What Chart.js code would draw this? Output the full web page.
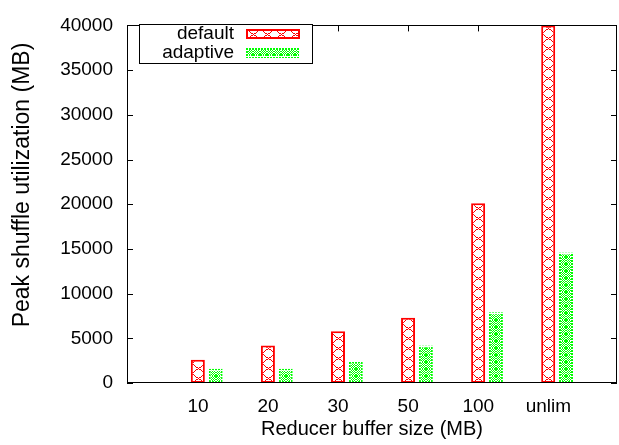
<!DOCTYPE html>
<html><head><meta charset="utf-8">
<script src="https://cdn.jsdelivr.net/npm/chart.js@4/dist/chart.umd.min.js"></script>
<style>html,body{margin:0;padding:0;background:#fff;}#wrap{width:619px;height:445px;}</style>
</head><body><div id="wrap"><canvas id="c" width="619" height="445"></canvas></div>
<script>
const categories = ['10', '20', '30', '50', '100', 'unlim'];
const seriesNames = ['default', 'adaptive'];
const defaultValues = [2600, 4200, 5800, 7300, 20100, 40000];
const adaptiveValues = [1600, 1600, 2400, 4200, 7900, 14600];
const yTickValues = [0, 5000, 10000, 15000, 20000, 25000, 30000, 35000, 40000];

const FONT = 'Liberation Sans, Arial, Helvetica, sans-serif';
const RED = '#ff0000';
const GREEN = '#00ff00';
const canvas = document.getElementById('c');
const ctx = canvas.getContext('2d');

function tileCanvas(w, h, draw) {
  const c = document.createElement('canvas'); c.width = w; c.height = h;
  const g = c.getContext('2d');
  const img = g.createImageData(w, h);
  draw((x, y, col) => {
    x = ((x % w) + w) % w; y = ((y % h) + h) % h;
    const i = (y * w + x) * 4;
    img.data[i] = col[0]; img.data[i + 1] = col[1]; img.data[i + 2] = col[2]; img.data[i + 3] = 255;
  });
  for (let i = 0; i < img.data.length; i += 4) {
    if (img.data[i + 3] === 0) { img.data[i] = 255; img.data[i + 1] = 255; img.data[i + 2] = 255; img.data[i + 3] = 255; }
  }
  g.putImageData(img, 0, 0);
  return c;
}
function redTile() {
  return tileCanvas(14, 10, (set) => {
    for (let x = 0; x < 14; x++) {
      const y = Math.round(x * 10 / 14);
      set(x, y, [255, 0, 0]);
      set(x, 10 - y, [255, 0, 0]);
    }
  });
}
function greenTile() {
  const rows = [
    '##.#.##',
    '#.#.#.#',
    '.#.#.#.',
    '#.#.#.#',
    '.#.#.#.',
    '#.#.#.#',
    '##.#.##'
  ];
  return tileCanvas(7, 7, (set) => {
    rows.forEach((r, y) => { for (let x = 0; x < r.length; x++) if (r[x] === '#') set(x, y, [0, 255, 0]); });
  });
}
function greenBorderTile() {
  return tileCanvas(3, 3, (set) => {
    for (let y = 0; y < 2; y++) for (let x = 0; x < 2; x++) set(x, y, [0, 255, 0]);
  });
}
const redT = redTile(), greenT = greenTile(), greenBT = greenBorderTile();
function makePatterns(tile, n) { return Array.from({length: n}, () => ctx.createPattern(tile, 'repeat')); }
const redFill = makePatterns(redT, categories.length);
const greenFill = makePatterns(greenT, categories.length);
const greenBorder = makePatterns(greenBT, categories.length);
const legendPatterns = [ctx.createPattern(redT, 'repeat'), ctx.createPattern(greenT, 'repeat'), ctx.createPattern(greenBT, 'repeat')];

const patternAlign = {
  id: 'patternAlign',
  beforeDatasetsDraw(chart) {
    const sets = [[redFill], [greenFill, greenBorder]];
    chart.data.datasets.forEach((ds, di) => {
      const meta = chart.getDatasetMeta(di);
      meta.data.forEach((el, i) => {
        const left = Math.round(el.x - el.width / 2);
        const base = Math.round(el.base);
        sets[di].forEach(arr => arr[i].setTransform(new DOMMatrix().translate(left, base)));
      });
    });
    const {ctx: c, chartArea: a, scales} = chart;
    c.save();
    c.strokeStyle = '#000'; c.lineWidth = 1;
    c.beginPath();
    scales.y.ticks.forEach(t => {
      const y = Math.round(scales.y.getPixelForValue(t.value)) + 0.5;
      c.moveTo(a.left, y); c.lineTo(a.left + 6, y);
      c.moveTo(a.right, y); c.lineTo(a.right - 6, y);
    });
    scales.x.ticks.forEach(t => {
      const x = Math.round(scales.x.getPixelForValue(t.value)) + 0.5;
      c.moveTo(x, a.top); c.lineTo(x, a.top + 6);
      c.moveTo(x, a.bottom); c.lineTo(x, a.bottom - 6);
    });
    c.stroke();
    c.restore();
  },
  afterDatasetsDraw(chart) {
    const {ctx: c, chartArea: a} = chart;
    c.save();
    c.strokeStyle = '#000'; c.lineWidth = 1;
    c.strokeRect(Math.round(a.left) + 0.5, Math.round(a.top) + 0.5, Math.round(a.right - a.left) - 1, Math.round(a.bottom - a.top) - 1);
    const bx = 139, by = 24, bw = 173, bh = 39;
    c.fillStyle = '#fff';
    c.fillRect(bx, by, bw, bh);
    c.strokeRect(bx + 0.5, by + 0.5, bw, bh);
    c.font = '19px ' + FONT;
    c.textAlign = 'right'; c.textBaseline = 'middle';
    c.fillStyle = '#000';
    const rowsY = [34, 53];
    chart.data.datasets.forEach((ds, di) => {
      c.fillText(ds.label, 234, rowsY[di]);
      const sx = 246, sw = 54, sh = 10, sy = rowsY[di] - 5;
      if (di === 0) {
        c.fillStyle = RED; c.fillRect(sx, sy, sw, sh);
        legendPatterns[0].setTransform(new DOMMatrix().translate(sx, sy));
        c.fillStyle = legendPatterns[0]; c.fillRect(sx + 2, sy + 2, sw - 4, sh - 4);
      } else {
        legendPatterns[2].setTransform(new DOMMatrix().translate(sx, sy));
        c.fillStyle = legendPatterns[2]; c.fillRect(sx, sy, sw, sh);
        legendPatterns[1].setTransform(new DOMMatrix().translate(sx, sy));
        c.fillStyle = legendPatterns[1]; c.fillRect(sx + 2, sy + 2, sw - 4, sh - 4);
      }
      c.fillStyle = '#000';
    });
    c.restore();
  }
};

const tickOffset = 0.125;
new Chart(canvas, {
  type: 'bar',
  data: {
    datasets: [
      {
        label: seriesNames[0],
        data: defaultValues.map((v, i) => ({x: i, y: v})),
        backgroundColor: (cx) => redFill[cx.dataIndex] || RED,
        borderColor: RED,
        borderWidth: 2,
        borderSkipped: false,
        categoryPercentage: 0.508,
        barPercentage: 0.787
      },
      {
        label: seriesNames[1],
        data: adaptiveValues.map((v, i) => ({x: i, y: v})),
        backgroundColor: (cx) => greenFill[cx.dataIndex] || GREEN,
        borderColor: (cx) => greenBorder[cx.dataIndex] || GREEN,
        borderWidth: 2,
        borderSkipped: false,
        categoryPercentage: 0.508,
        barPercentage: 0.787
      }
    ]
  },
  options: {
    responsive: false,
    devicePixelRatio: 1,
    animation: false,
    events: [],
    layout: {padding: {left: 0, top: 18, right: 2, bottom: 0}},
    plugins: {legend: {display: false}, tooltip: {enabled: false}},
    scales: {
      x: {
        type: 'linear',
        min: -1.138,
        max: 5.855,
        offset: false,
        afterBuildTicks: (s) => { s.ticks = categories.map((c, i) => ({value: i - tickOffset})); },
        afterFit: (s) => { s.height = 62; },
        grid: {display: false, drawTicks: false},
        border: {display: false},
        ticks: {
          autoSkip: false, maxRotation: 0, padding: 12,
          color: '#000', font: {family: FONT, size: 19},
          callback: (v) => categories[Math.round(v + tickOffset)]
        },
        title: {display: true, text: 'Reducer buffer size (MB)', color: '#000', font: {family: FONT, size: 20}, padding: {top: 0, bottom: 4}}
      },
      y: {
        min: 0, max: 40000,
        afterBuildTicks: (s) => { s.ticks = yTickValues.map(v => ({value: v})); },
        afterFit: (s) => { s.width = 127; },
        grid: {display: false, drawTicks: false},
        border: {display: false},
        ticks: {
          padding: 14, color: '#000', font: {family: FONT, size: 19},
          callback: (v) => String(v)
        },
        title: {display: true, text: '      Peak shuffle utilization (MB)', color: '#000', font: {family: FONT, size: 23}, padding: {top: 9, bottom: 0}}
      }
    }
  },
  plugins: [patternAlign]
});
</script>
</body></html>
